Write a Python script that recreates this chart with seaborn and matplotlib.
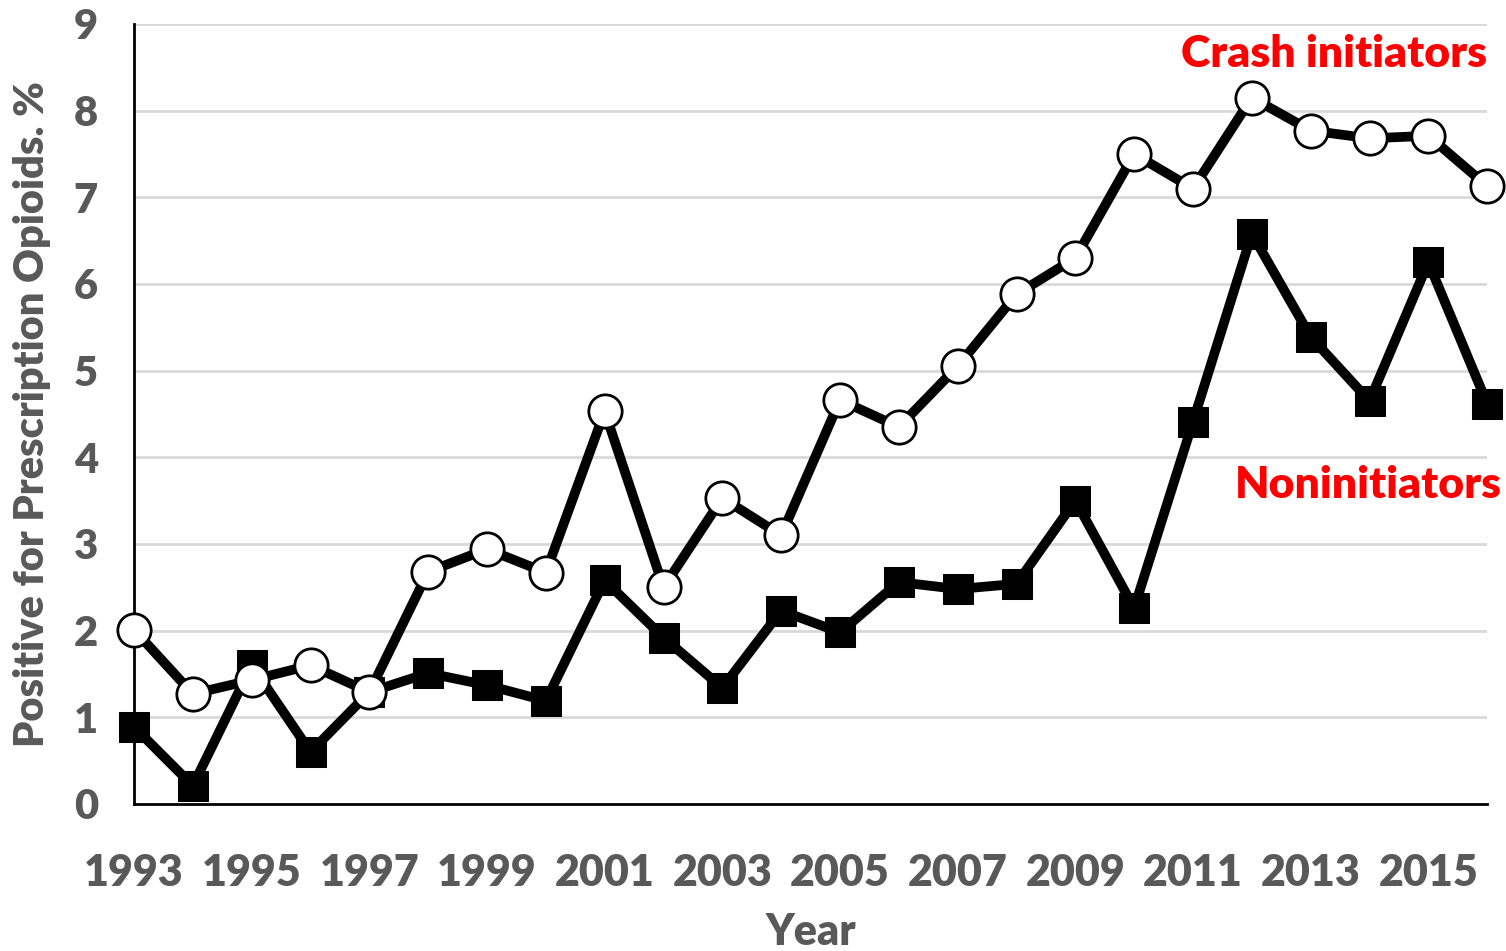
import pandas as pd
import matplotlib
matplotlib.use('Agg')
import matplotlib.pyplot as plt
import seaborn as sns

# Values
years = list(range(1993, 2017))
crash_initiators = [2.01, 1.27, 1.43, 1.60, 1.29, 2.68, 2.94, 2.67, 4.53, 2.50, 3.53, 3.10,
                    4.66, 4.35, 5.05, 5.88, 6.30, 7.50, 7.10, 8.15, 7.77, 7.68, 7.71, 7.13]
noninitiators = [0.89, 0.21, 1.60, 0.60, 1.29, 1.51, 1.37, 1.19, 2.58, 1.92, 1.34, 2.23,
                 1.98, 2.56, 2.48, 2.54, 3.50, 2.26, 4.41, 6.58, 5.39, 4.65, 6.25, 4.62]
y_ticks = list(range(0, 10))
x_tick_labels = list(range(1993, 2017, 2))

sns.set_theme(style='white')
plt.rcParams['font.family'] = ['Lato', 'DejaVu Sans']
plt.rcParams['font.weight'] = 'heavy'

grey = '#595959'
fw = 'heavy'

fig = plt.figure(figsize=(15.06, 9.51), dpi=100)
ax = fig.add_axes([0.089, 0.1546, 0.8985, 0.8202])

# grid first so the lines sit on top
for yv in y_ticks[1:]:
    ax.axhline(yv, color='#d9d9d9', lw=2, zorder=0)

df_nonint = pd.DataFrame({'year': years, 'pct': noninitiators})
df_crash = pd.DataFrame({'year': years, 'pct': crash_initiators})

sns.lineplot(data=df_nonint, x='year', y='pct', ax=ax, color='black', lw=7,
             marker='s', markersize=21, markerfacecolor='black', markeredgecolor='black',
             clip_on=False, zorder=3)
sns.lineplot(data=df_crash, x='year', y='pct', ax=ax, color='black', lw=7,
             marker='o', markersize=24, markerfacecolor='white', markeredgecolor='black',
             markeredgewidth=2, clip_on=False, zorder=4)

ax.set_xlim(1993, 2016)
ax.set_ylim(0, 9)
ax.set_yticks(y_ticks)
ax.set_xticks(years)
ax.set_xticklabels([str(y) if y in x_tick_labels else '' for y in years])

for s in ['top', 'right']:
    ax.spines[s].set_visible(False)
for s in ['left', 'bottom']:
    ax.spines[s].set_color('black')
    ax.spines[s].set_linewidth(2)

ax.tick_params(axis='x', direction='out', length=15, width=2, color='black',
               labelsize=31, labelcolor=grey, pad=20)
ax.tick_params(axis='y', direction='out', length=12, width=2, color='black',
               labelsize=30, labelcolor=grey, pad=14)
for lab in ax.get_xticklabels() + ax.get_yticklabels():
    lab.set_fontweight(fw)
ax.set_xlabel('Year', fontsize=31, fontweight=fw, color=grey, labelpad=14)
ax.set_ylabel('Positive for Prescription Opioids. %', fontsize=30, fontweight=fw,
              color=grey, labelpad=16)

ax.text(2016, 8.65, 'Crash initiators', color='#ff0000', fontsize=32, fontweight=fw,
        ha='right', va='center')
ax.text(2016.25, 3.68, 'Noninitiators', color='#ff0000', fontsize=32, fontweight=fw,
        ha='right', va='center')

fig.savefig('out.png', dpi=100)
